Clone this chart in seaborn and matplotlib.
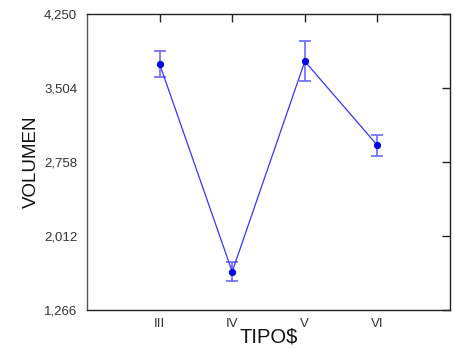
import matplotlib
matplotlib.use("Agg")
import matplotlib.pyplot as plt
import seaborn as sns
import pandas as pd

tipos = ["III", "IV", "V", "VI"]
volumen = [3746, 1652, 3773, 2926]
error = [128, 93, 200, 104]
yticks = [1266, 2012, 2758, 3504, 4250]
ytick_labels = ["1,266", "2,012", "2,758", "3,504", "4,250"]

sns.set_style("white")
plt.rcParams['font.family'] = ['Liberation Sans', 'DejaVu Sans']

df = pd.DataFrame({"TIPO$": tipos, "VOLUMEN": volumen})

fig = plt.figure(figsize=(4.56, 3.49), dpi=100)
ax = fig.add_axes([87/456, 1-310/349, (450-87)/456, (310-14)/349])

ax.errorbar(range(len(tipos)), volumen, yerr=error, fmt='none',
            ecolor='#6a6aff', elinewidth=1.2, capsize=4, capthick=1.2, zorder=2)
sns.pointplot(data=df, x="TIPO$", y="VOLUMEN", order=tipos, errorbar=None,
              color='#3535ff', markers='o', markersize=4.5, linewidth=0.9, ax=ax)
for l in ax.lines:
    if l.get_marker() == 'o':
        l.set_markerfacecolor('#0000e0')
        l.set_markeredgecolor('#0000e0')

ax.set_xlim(-1, 4)
ax.set_ylim(1266, 4250)
ax.set_yticks(yticks)
ax.set_yticklabels(ytick_labels)
ax.tick_params(direction='in', length=6, width=1, color='#222222',
               top=True, right=True, labelsize=9.5, labelcolor='#333333', pad=7)
ax.tick_params(axis='x', pad=6)
for s in ax.spines.values():
    s.set_color('#222222')
    s.set_linewidth(1.0)
ax.spines['left'].set_color('#555555')
ax.set_xlabel("TIPO$", fontsize=14.5, color='#111111', labelpad=-2)
ax.xaxis.set_label_coords((266-87)/(450-87), -(333-310)/(310-14), transform=None) if False else None
ax.set_ylabel("VOLUMEN", fontsize=13.5, color='#111111', labelpad=3)

fig.savefig("out.png", dpi=100)
